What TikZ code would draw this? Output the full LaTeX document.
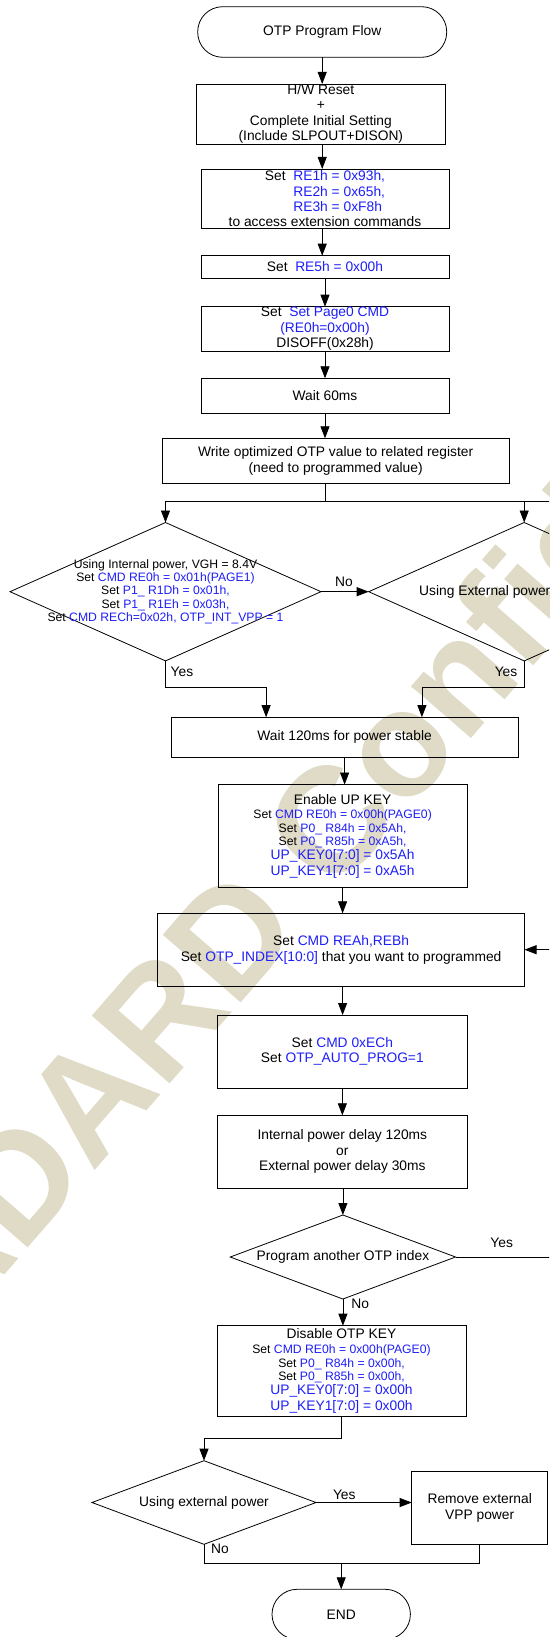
\documentclass[tikz,border=0pt]{standalone}
\usepackage{fontspec}
\setmainfont{Liberation Sans}
\usetikzlibrary{shapes.geometric,arrows.meta}
\definecolor{tblue}{RGB}{30,30,250}
\definecolor{wmtan}{RGB}{224,219,198}
\newcommand\mfont{\fontsize{13.8}{15.3}\selectfont}
\newcommand\sfont{\fontsize{12.2}{13.4}\selectfont}
\newcommand\bl[1]{\textcolor{tblue}{#1}}
\begin{document}
\begin{tikzpicture}[x=1pt,y=-1pt,
  line/.style={draw=black, line width=0.8pt},
  arr/.style={line, -{Triangle[length=12pt,width=9pt]}},
  box/.style={draw=black, line width=0.8pt, rectangle, inner sep=0pt, outer sep=0pt, align=center, font=\mfont},
  term/.style={box, rounded corners=25pt},
  dia/.style={draw=black, line width=0.8pt, diamond, inner sep=0pt, outer sep=0pt},
  dtext/.style={inner sep=0pt, align=center},
  lbl/.style={inner sep=0pt, font=\mfont},
  wm/.style={inner sep=0pt, text=wmtan, font=\fontsize{150}{150}\selectfont\bfseries, rotate=49, anchor=base west}
]
\path[use as bounding box] (0,0) rectangle (549,1637);
\fill[white] (0,0) rectangle (549,1637);
\begin{scope}
\clip (0,0) rectangle (549,1637);
\node[wm] (wmark) at (-104.3,1400.1) {JADARD Confidential};

\node[term, minimum width=249pt, minimum height=50.6pt] (start) at (322.2,32) {OTP Program Flow};
\node[box, minimum width=249.7pt, minimum height=60pt] (hw) at (320.85,114) {H/W Reset\\+\\Complete Initial Setting\\(Include SLPOUT+DISON)};
\node[box, minimum width=248pt, minimum height=59.7pt] (re1) at (325,198.85) {Set\ \ \bl{RE1h = 0x93h,}\\\hphantom{Set\ \ }\bl{RE2h = 0x65h,}\\\hphantom{Set\ \ }\rlap{\bl{RE3h = 0xF8h}}\hphantom{RE1h = 0x93h,}\\to access extension commands};
\node[box, minimum width=248pt, minimum height=22.6pt] (re5) at (325,267) {Set\ \ \bl{RE5h = 0x00h}};
\node[box, minimum width=248pt, minimum height=44.3pt] (pg0) at (325,328.85) {Set\ \ \bl{Set Page0 CMD}\\\bl{(RE0h=0x00h)}\\DISOFF(0x28h)};
\node[box, minimum width=248pt, minimum height=35pt] (w60) at (325,395.8) {Wait 60ms};
\node[box, minimum width=346.7pt, minimum height=45pt] (wr) at (335.65,460.8) {Write optimized OTP value to related register\\[1pt](need to programmed value)};
\coordinate (split) at (325.6,501);
\coordinate (splitL) at (165.5,501);
\coordinate (splitR) at (560,501);
\node[dia, minimum width=311pt, minimum height=138.4pt] (d1) at (165.5,591.7) {};
\node[dtext, font=\sfont] (d1t) at (d1.center) {Using Internal power, VGH = 8.4V\\Set \bl{CMD RE0h = 0x01h(PAGE1)}\\Set \bl{P1\_ R1Dh = 0x01h,}\\Set \bl{P1\_ R1Eh = 0x03h,}\\Set \bl{CMD RECh=0x02h, OTP\_INT\_VPP = 1}};
\node[dia, minimum width=311pt, minimum height=138.4pt] (d2) at (524.2,591.7) {};
\node[lbl, anchor=west] (d2t) at (419,591.7) {Using External power};
\node[lbl] (no1) at (344,581.7) {No};
\node[lbl] (yes1) at (182,672.3) {Yes};
\node[lbl] (yes2) at (506,672.3) {Yes};
\node[box, minimum width=347.4pt, minimum height=39.8pt] (w120) at (344.6,737.1) {Wait 120ms for power stable};
\coordinate (m1a) at (165.5,687.3); \coordinate (m1b) at (266.1,687.3);
\coordinate (m2a) at (524.2,687.3); \coordinate (m2b) at (421.9,687.3);
\node[box, minimum width=248.8pt, minimum height=102.9pt] (upk) at (342.6,836) {Enable UP KEY\\[-1.3pt]{\sfont Set \bl{CMD RE0h = 0x00h(PAGE0)}}\\[-1.3pt]{\sfont Set \bl{P0\_ R84h = 0x5Ah,}}\\[-1.7pt]{\sfont Set \bl{P0\_ R85h = 0xA5h,}}\\[-1.6pt]\bl{UP\_KEY0[7:0] = 0x5Ah}\\[0.4pt]\bl{UP\_KEY1[7:0] = 0xA5h}};
\node[box, minimum width=366.8pt, minimum height=72.8pt] (rea) at (341.1,949.7) {Set \bl{CMD REAh,REBh}\\[0.7pt]Set \bl{OTP\_INDEX[10:0]} that you want to programmed};
\coordinate (loopin) at (560,949.7);
\node[box, minimum width=249.3pt, minimum height=73pt] (ech) at (342.35,1051.5) {Set \bl{CMD 0xECh}\\[-0.3pt]Set \bl{OTP\_AUTO\_PROG=1}};
\node[box, minimum width=249.3pt, minimum height=73pt] (dly) at (342.35,1151.8) {Internal power delay 120ms\\[0.7pt]or\\[-0.3pt]External power delay 30ms};
\node[dia, minimum width=225.3pt, minimum height=84pt] (d3) at (342.9,1257) {};
\node[lbl] (d3t) at (d3.center) {Program another OTP index};
\node[lbl] (yes3) at (501.7,1242.7) {Yes};
\node[lbl] (no3) at (360.3,1304) {No};
\coordinate (loopout) at (560,1257);
\node[box, minimum width=249pt, minimum height=90.3pt] (dis) at (341.5,1370.85) {Disable OTP KEY\\[-0.3pt]{\sfont Set \bl{CMD RE0h = 0x00h(PAGE0)}}\\[-1.3pt]{\sfont Set \bl{P0\_ R84h = 0x00h,}}\\[-2pt]{\sfont Set \bl{P0\_ R85h = 0x00h,}}\\[-0.8pt]\bl{UP\_KEY0[7:0] = 0x00h}\\[0.7pt]\bl{UP\_KEY1[7:0] = 0x00h}};
\coordinate (j1) at (341.5,1438.3); \coordinate (j2) at (204,1438.3);
\node[dia, minimum width=224pt, minimum height=83.6pt] (d4) at (204,1502.5) {};
\node[lbl] (d4t) at (d4.center) {Using external power};
\node[box, minimum width=136pt, minimum height=72.6pt] (rm) at (479.7,1508) {Remove external\\[0.7pt]VPP power};
\node[lbl] (yes4) at (344.3,1494.7) {Yes};
\node[lbl] (no4) at (220,1548.7) {No};
\coordinate (k1) at (204,1563.3); \coordinate (k2) at (479.7,1563.3); \coordinate (k3) at (341.2,1563.3);
\node[term, minimum width=138.4pt, minimum height=50pt] (end) at (341.2,1614.3) {END};

\draw[arr] (start.south) -- (start.south |- hw.north);
\draw[arr] (hw.south -| start.south) -- (start.south |- re1.north);
\draw[arr] (re1.south -| start.south) -- (start.south |- re5.north);
\draw[arr] (re5.south) -- (pg0.north);
\draw[arr] (pg0.south) -- (w60.north);
\draw[arr] (w60.south) -- (w60.south |- wr.north);
\draw[line] (wr.south -| split) -- (split);
\draw[line] (splitL) -- (splitR);
\draw[arr] (splitL) -- (d1.north);
\draw[arr] (d2.north |- split) -- (d2.north);
\draw[arr] (d1.east) -- (d2.west);
\draw[arr] (d1.south) -- (m1a) -- (m1b) -- (m1b |- w120.north);
\draw[arr] (d2.south) -- (m2a) -- (m2b) -- (m2b |- w120.north);
\draw[arr] (w120.south) -- (w120.south |- upk.north);
\draw[arr] (upk.south) -- (upk.south |- rea.north);
\draw[arr] (rea.south -| upk.south) -- (upk.south |- ech.north);
\draw[arr] (ech.south) -- (dly.north);
\draw[arr] (dly.south -| d3.north) -- (d3.north);
\draw[line] (d3.east) -- (loopout);
\draw[arr] (loopin) -- (rea.east);
\draw[arr] (d3.south) -- (d3.south |- dis.north);
\draw[arr] (dis.south) -- (j1) -- (j2) -- (d4.north);
\draw[arr] (d4.east) -- (d4.east -| rm.west);
\draw[line] (d4.south) -- (k1) -- (k2) -- (rm.south);
\draw[arr] (k3) -- (end.north);
\end{scope}
\end{tikzpicture}
\end{document}
